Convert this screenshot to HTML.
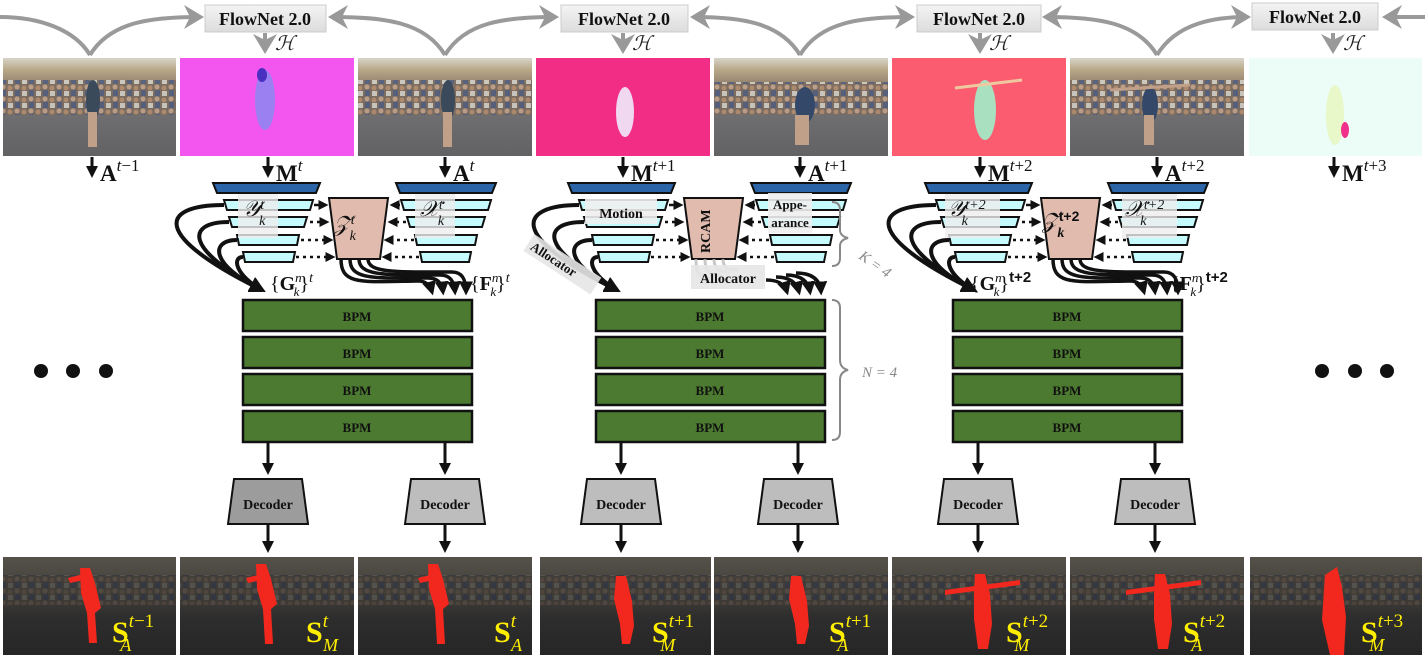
<!DOCTYPE html>
<html><head><meta charset="utf-8"><style>
html,body{margin:0;padding:0;background:#fff;}
svg{display:block;}
text{font-family:"Liberation Serif",serif;}
.b{font-weight:bold;}
</style></head><body>
<svg width="1425" height="659" viewBox="0 0 1425 659" xmlns="http://www.w3.org/2000/svg">
<defs>
<linearGradient id="photo" x1="0" y1="0" x2="0" y2="1">
<stop offset="0" stop-color="#d8d4c8"/><stop offset="0.12" stop-color="#b8a888"/>
<stop offset="0.3" stop-color="#8a7868"/><stop offset="0.55" stop-color="#7a6e66"/>
<stop offset="0.6" stop-color="#6e6e70"/><stop offset="1" stop-color="#626264"/>
</linearGradient>
<linearGradient id="dark" x1="0" y1="0" x2="0" y2="1">
<stop offset="0" stop-color="#55524a"/><stop offset="0.45" stop-color="#3c3a36"/>
<stop offset="0.6" stop-color="#2e2e2e"/><stop offset="1" stop-color="#262626"/>
</linearGradient>
<linearGradient id="fn" x1="0" y1="0" x2="0" y2="1">
<stop offset="0" stop-color="#f4f4f4"/><stop offset="1" stop-color="#dcdcdc"/>
</linearGradient>
<pattern id="crowd" width="14" height="12" patternUnits="userSpaceOnUse">
<rect width="14" height="12" fill="#7a6a5e"/><circle cx="3" cy="3" r="2.5" fill="#c8a890"/><rect x="1" y="6" width="5" height="6" fill="#4a5a80"/>
<circle cx="10" cy="4" r="2.5" fill="#b89070"/><rect x="8" y="7" width="5" height="5" fill="#d8d8d0"/>
</pattern>
<pattern id="dcrowd" width="14" height="12" patternUnits="userSpaceOnUse">
<rect width="14" height="12" fill="#3e3a36"/><circle cx="3" cy="3" r="2.5" fill="#5a4e46"/><rect x="1" y="6" width="5" height="6" fill="#2e3444"/>
<circle cx="10" cy="4" r="2.5" fill="#56483e"/><rect x="8" y="7" width="5" height="5" fill="#5a5a56"/>
</pattern>
<marker id="ga" markerWidth="6" markerHeight="6" refX="4" refY="3" orient="auto" markerUnits="strokeWidth"><path d="M0,0 L5,3 L0,6 L1.5,3z" fill="#999"/></marker>
<marker id="sa" markerWidth="4" markerHeight="4" refX="3" refY="2" orient="auto" markerUnits="strokeWidth"><path d="M0,0 L4,2 L0,4z" fill="#111"/></marker>

<g id="enc">
 <polygon points="213,183 320,183 316,193 217,193" fill="#2c64a8" stroke="#111" stroke-width="2"/>
 <polygon points="224,200 313,200 310,210 227,210" fill="#c6fbfd" stroke="#111" stroke-width="2"/>
 <polygon points="229,217 307,217 304,227 232,227" fill="#c6fbfd" stroke="#111" stroke-width="2"/>
 <polygon points="237,235 299,235 297,245 239,245" fill="#c6fbfd" stroke="#111" stroke-width="2"/>
 <polygon points="243,252 295,252 293,262 245,262" fill="#c6fbfd" stroke="#111" stroke-width="2"/>
 <polygon points="396,183 496,183 492,193 400,193" fill="#2c64a8" stroke="#111" stroke-width="2"/>
 <polygon points="401,200 491,200 488,210 404,210" fill="#c6fbfd" stroke="#111" stroke-width="2"/>
 <polygon points="407,217 485,217 482,227 410,227" fill="#c6fbfd" stroke="#111" stroke-width="2"/>
 <polygon points="415,235 477,235 475,245 417,245" fill="#c6fbfd" stroke="#111" stroke-width="2"/>
 <polygon points="420,252 471,252 469,262 422,262" fill="#c6fbfd" stroke="#111" stroke-width="2"/>
 <polygon points="329,198 388,198 380,259 337,259" fill="#e0bbae" stroke="#111" stroke-width="2"/>
 <g stroke="#111" stroke-width="2.5" stroke-dasharray="3,4" fill="none">
  <path d="M314,205 L326,205" stroke-dasharray="none" marker-end="url(#sa)"/>
  <path d="M310,222 L327,222" marker-end="url(#sa)"/>
  <path d="M301,240 L331,240" marker-end="url(#sa)"/>
  <path d="M296,257 L333,257" marker-end="url(#sa)"/>
  <path d="M400,205 L392,205" stroke-dasharray="none" marker-end="url(#sa)"/>
  <path d="M406,222 L390,222" marker-end="url(#sa)"/>
  <path d="M414,240 L386,240" marker-end="url(#sa)"/>
  <path d="M419,257 L384,257" marker-end="url(#sa)"/>
 </g>
</g>
<g id="rfan" stroke="#111" stroke-width="3.5" fill="none">
  <path d="M341,259 C341,285 360,282 418,281 C426,281 430,285 432,292" marker-end="url(#sa)"/>
  <path d="M350,259 C350,280 372,278 428,278 C438,278 442,283 443,292" marker-end="url(#sa)"/>
  <path d="M359,259 C359,276 384,275 440,275 C450,275 454,281 455,292" marker-end="url(#sa)"/>
  <path d="M368,259 C368,273 396,272 452,272 C462,272 466,279 466,292" marker-end="url(#sa)"/>
</g>
<g id="lcurves" stroke="#111" stroke-width="4" fill="none">
 <path d="M224,205 C160,205 150,235 262,290" marker-end="url(#sa)"/>
 <path d="M229,222 C185,222 185,250 262,290" marker-end="url(#sa)"/>
 <path d="M237,240 C210,240 210,265 262,290" marker-end="url(#sa)"/>
 <path d="M243,257 C232,257 235,275 262,290" marker-end="url(#sa)"/>
</g>
<g id="bpm">
 <rect x="243" y="300" width="229" height="31" fill="#4b7a30" stroke="#111" stroke-width="2.5"/>
 <rect x="243" y="337" width="229" height="31" fill="#4b7a30" stroke="#111" stroke-width="2.5"/>
 <rect x="243" y="374" width="229" height="31" fill="#4b7a30" stroke="#111" stroke-width="2.5"/>
 <rect x="243" y="411" width="229" height="31" fill="#4b7a30" stroke="#111" stroke-width="2.5"/>
 <g stroke="#111" stroke-width="3">
  <line x1="268" y1="442" x2="268" y2="472" marker-end="url(#sa)"/>
  <line x1="445" y1="442" x2="445" y2="472" marker-end="url(#sa)"/>
  <line x1="268" y1="525" x2="268" y2="550" marker-end="url(#sa)"/>
  <line x1="445" y1="525" x2="445" y2="550" marker-end="url(#sa)"/>
 </g>
</g>
<polygon id="dec" points="-34,479 34,479 40,524 -40,524" stroke="#111" stroke-width="2"/>
</defs>

<g stroke="#9a9a9a" stroke-width="4" fill="none">
 <path d="M0,17 C40,17 75,30 90,55"/>
 <path d="M90,55 C110,22 150,17 200,17" marker-end="url(#ga)"/>
 <path d="M445,55 C425,22 385,17 332,17" marker-end="url(#ga)"/>
 <path d="M445,55 C465,22 505,17 555,17" marker-end="url(#ga)"/>
 <path d="M800,55 C780,22 740,17 694,17" marker-end="url(#ga)"/>
 <path d="M800,55 C820,22 860,17 911,17" marker-end="url(#ga)"/>
 <path d="M1157,55 C1137,22 1097,17 1046,17" marker-end="url(#ga)"/>
 <path d="M1157,55 C1177,22 1217,17 1247,17" marker-end="url(#ga)"/>
 <path d="M1425,17 L1386,17" marker-end="url(#ga)"/>
 <line x1="265" y1="33" x2="265" y2="50" marker-end="url(#ga)"/>
 <line x1="623" y1="33" x2="623" y2="50" marker-end="url(#ga)"/>
 <line x1="980" y1="33" x2="980" y2="50" marker-end="url(#ga)"/>
 <line x1="1333" y1="33" x2="1333" y2="50" marker-end="url(#ga)"/>
</g>
<g font-size="18" fill="#111">
 <rect x="205" y="5" width="121" height="27" fill="url(#fn)" stroke="#ccc"/><text x="265" y="25" text-anchor="middle" class="b">FlowNet 2.0</text>
 <rect x="561" y="5" width="127" height="27" fill="url(#fn)" stroke="#ccc"/><text x="624" y="25" text-anchor="middle" class="b">FlowNet 2.0</text>
 <rect x="917" y="5" width="124" height="27" fill="url(#fn)" stroke="#ccc"/><text x="979" y="25" text-anchor="middle" class="b">FlowNet 2.0</text>
 <rect x="1252" y="3" width="126" height="27" fill="url(#fn)" stroke="#ccc"/><text x="1315" y="23" text-anchor="middle" class="b">FlowNet 2.0</text>
</g>
<g font-size="20" font-style="italic" fill="#222">
 <text x="275" y="50">ℋ</text><text x="632" y="50">ℋ</text><text x="989" y="50">ℋ</text><text x="1343" y="50">ℋ</text>
</g>

<!-- top images -->
<g>
 <rect x="3" y="58" width="173" height="98" fill="url(#photo)"/>
 <rect x="3" y="80" width="173" height="35" fill="url(#crowd)" opacity="0.8"/>
 <rect x="180" y="58" width="174" height="98" fill="#f356ef"/>
 <rect x="358" y="58" width="174" height="98" fill="url(#photo)"/>
 <rect x="358" y="80" width="174" height="35" fill="url(#crowd)" opacity="0.8"/>
 <rect x="536" y="58" width="174" height="98" fill="#f12d85"/>
 <rect x="714" y="58" width="174" height="98" fill="url(#photo)"/>
 <rect x="714" y="82" width="174" height="32" fill="url(#crowd)" opacity="0.8"/>
 <rect x="892" y="58" width="174" height="98" fill="#fb5c70"/>
 <rect x="1070" y="58" width="174" height="98" fill="url(#photo)"/>
 <rect x="1070" y="80" width="174" height="35" fill="url(#crowd)" opacity="0.8"/>
 <rect x="1249" y="58" width="173" height="98" fill="#ecfcf6"/>
 <g fill="#3a4a5a"><ellipse cx="93" cy="100" rx="7" ry="20"/><rect x="88" y="112" width="9" height="35" fill="#c0a088"/></g>
 <g fill="#3a4a5a"><ellipse cx="448" cy="100" rx="7" ry="20"/><rect x="443" y="112" width="9" height="35" fill="#c0a088"/></g>
 <g fill="#34486a"><ellipse cx="805" cy="105" rx="10" ry="18"/><rect x="795" y="115" width="14" height="30" fill="#c0a088"/></g>
 <g fill="#34486a"><ellipse cx="1150" cy="105" rx="8" ry="18"/><line x1="1110" y1="90" x2="1190" y2="85" stroke="#c0a088" stroke-width="3"/><rect x="1144" y="115" width="10" height="30" fill="#c0a088"/></g>
 <g><ellipse cx="265" cy="100" rx="10" ry="30" fill="#9a80f0"/><ellipse cx="262" cy="75" rx="5" ry="7" fill="#4a30c0"/></g>
 <g><ellipse cx="625" cy="112" rx="9" ry="25" fill="#f0d8f0"/></g>
 <g><ellipse cx="985" cy="110" rx="11" ry="30" fill="#a8e0c0"/><line x1="955" y1="88" x2="1022" y2="80" stroke="#f0c8a0" stroke-width="3"/></g>
 <g><ellipse cx="1335" cy="115" rx="9" ry="30" fill="#e8f8c8"/><ellipse cx="1345" cy="130" rx="4" ry="8" fill="#f0308a"/></g>
</g>

<!-- bottom images -->
<g>
 <rect x="3" y="557" width="173" height="98" fill="url(#dark)"/>
 <rect x="180" y="557" width="174" height="98" fill="url(#dark)"/>
 <rect x="358" y="557" width="174" height="98" fill="url(#dark)"/>
 <rect x="540" y="557" width="171" height="98" fill="url(#dark)"/>
 <rect x="714" y="557" width="174" height="98" fill="url(#dark)"/>
 <rect x="892" y="557" width="174" height="98" fill="url(#dark)"/>
 <rect x="1070" y="557" width="174" height="98" fill="url(#dark)"/>
 <rect x="1250" y="557" width="172" height="98" fill="url(#dark)"/>
 <g opacity="0.7">
  <rect x="3" y="575" width="173" height="30" fill="url(#dcrowd)"/>
  <rect x="180" y="575" width="174" height="30" fill="url(#dcrowd)"/>
  <rect x="358" y="575" width="174" height="30" fill="url(#dcrowd)"/>
  <rect x="540" y="575" width="171" height="30" fill="url(#dcrowd)"/>
  <rect x="714" y="575" width="174" height="30" fill="url(#dcrowd)"/>
  <rect x="892" y="575" width="174" height="30" fill="url(#dcrowd)"/>
  <rect x="1070" y="575" width="174" height="30" fill="url(#dcrowd)"/>
  <rect x="1250" y="575" width="172" height="30" fill="url(#dcrowd)"/>
 </g>
 <g fill="#f2281e">
  <path d="M80,568 l10,0 l5,15 l6,25 l-6,5 l2,30 l-8,0 l-2,-30 l-6,-20z"/><path d="M68,578 l20,-5 l0,6 l-18,4z"/>
  <path d="M256,564 l10,0 l5,15 l6,25 l-6,5 l2,35 l-8,0 l-2,-35 l-6,-20z"/><path d="M246,578 l20,-5 l0,6 l-18,4z"/>
  <path d="M428,564 l10,0 l5,15 l6,25 l-6,5 l2,35 l-8,0 l-2,-35 l-6,-20z"/><path d="M418,578 l20,-5 l0,6 l-18,4z"/>
  <path d="M616,576 l10,0 l6,25 l2,25 l-4,18 l-8,0 l-2,-20 l-6,-25z"/>
  <path d="M791,576 l10,0 l6,25 l2,25 l-4,18 l-8,0 l-2,-20 l-6,-25z"/>
  <path d="M975,574 l10,0 l5,20 l2,30 l-4,25 l-10,0 l-4,-30 l0,-25z"/><path d="M945,590 l75,-10 l0,5 l-75,10z"/>
  <path d="M1155,574 l10,0 l5,20 l2,30 l-4,25 l-10,0 l-4,-30 l0,-25z"/><path d="M1126,590 l75,-10 l0,5 l-75,10z"/>
  <path d="M1325,575 l12,-8 l5,20 l4,30 l-2,38 l-14,0 l-8,-35z"/>
 </g>
 <g fill="#ffee00" font-size="30">
  <text x="112" y="642" class="b">S<tspan font-size="19" font-weight="normal" font-style="italic" dy="-15">t</tspan><tspan font-size="19" font-weight="normal">−1</tspan><tspan font-size="18" font-weight="normal" font-style="italic" dx="-34" dy="24">A</tspan></text>
  <text x="306" y="642" class="b">S<tspan font-size="19" font-weight="normal" font-style="italic" dy="-15">t</tspan><tspan font-size="18" font-weight="normal" font-style="italic" dx="-5" dy="24">M</tspan></text>
  <text x="494" y="642" class="b">S<tspan font-size="19" font-weight="normal" font-style="italic" dy="-15">t</tspan><tspan font-size="18" font-weight="normal" font-style="italic" dx="-5" dy="24">A</tspan></text>
  <text x="652" y="642" class="b">S<tspan font-size="19" font-weight="normal" font-style="italic" dy="-15">t</tspan><tspan font-size="19" font-weight="normal">+1</tspan><tspan font-size="18" font-weight="normal" font-style="italic" dx="-34" dy="24">M</tspan></text>
  <text x="829" y="642" class="b">S<tspan font-size="19" font-weight="normal" font-style="italic" dy="-15">t</tspan><tspan font-size="19" font-weight="normal">+1</tspan><tspan font-size="18" font-weight="normal" font-style="italic" dx="-34" dy="24">A</tspan></text>
  <text x="1006" y="642" class="b">S<tspan font-size="19" font-weight="normal" font-style="italic" dy="-15">t</tspan><tspan font-size="19" font-weight="normal">+2</tspan><tspan font-size="18" font-weight="normal" font-style="italic" dx="-34" dy="24">M</tspan></text>
  <text x="1183" y="642" class="b">S<tspan font-size="19" font-weight="normal" font-style="italic" dy="-15">t</tspan><tspan font-size="19" font-weight="normal">+2</tspan><tspan font-size="18" font-weight="normal" font-style="italic" dx="-34" dy="24">A</tspan></text>
  <text x="1361" y="642" class="b">S<tspan font-size="19" font-weight="normal" font-style="italic" dy="-15">t</tspan><tspan font-size="19" font-weight="normal">+3</tspan><tspan font-size="18" font-weight="normal" font-style="italic" dx="-34" dy="24">M</tspan></text>
 </g>
</g>

<g stroke="#111" stroke-width="3">
 <line x1="92" y1="157" x2="92" y2="175" marker-end="url(#sa)"/>
 <line x1="268" y1="157" x2="268" y2="175" marker-end="url(#sa)"/>
 <line x1="445" y1="157" x2="445" y2="175" marker-end="url(#sa)"/>
 <line x1="623" y1="157" x2="623" y2="175" marker-end="url(#sa)"/>
 <line x1="800" y1="157" x2="800" y2="175" marker-end="url(#sa)"/>
 <line x1="980" y1="157" x2="980" y2="175" marker-end="url(#sa)"/>
 <line x1="1157" y1="157" x2="1157" y2="175" marker-end="url(#sa)"/>
 <line x1="1334" y1="157" x2="1334" y2="175" marker-end="url(#sa)"/>
</g>
<g font-size="23" fill="#111">
 <text x="100" y="181" class="b">A<tspan font-size="17" font-weight="normal" font-style="italic" dy="-10">t</tspan><tspan font-size="17" font-weight="normal">−1</tspan></text>
 <text x="276" y="181" class="b">M<tspan font-size="17" font-weight="normal" font-style="italic" dy="-10">t</tspan></text>
 <text x="453" y="181" class="b">A<tspan font-size="17" font-weight="normal" font-style="italic" dy="-10">t</tspan></text>
 <text x="631" y="181" class="b">M<tspan font-size="17" font-weight="normal" font-style="italic" dy="-10">t</tspan><tspan font-size="17" font-weight="normal">+1</tspan></text>
 <text x="808" y="181" class="b">A<tspan font-size="17" font-weight="normal" font-style="italic" dy="-10">t</tspan><tspan font-size="17" font-weight="normal">+1</tspan></text>
 <text x="988" y="181" class="b">M<tspan font-size="17" font-weight="normal" font-style="italic" dy="-10">t</tspan><tspan font-size="17" font-weight="normal">+2</tspan></text>
 <text x="1165" y="181" class="b">A<tspan font-size="17" font-weight="normal" font-style="italic" dy="-10">t</tspan><tspan font-size="17" font-weight="normal">+2</tspan></text>
 <text x="1342" y="181" class="b">M<tspan font-size="17" font-weight="normal" font-style="italic" dy="-10">t</tspan><tspan font-size="17" font-weight="normal">+3</tspan></text>
</g>

<use href="#enc"/>
<use href="#enc" transform="translate(355,0)"/>
<use href="#enc" transform="translate(712,0)"/>
<use href="#rfan"/>
<use href="#rfan" transform="translate(712,0)"/>
<use href="#lcurves"/>
<use href="#lcurves" transform="translate(712,0)"/>
<g stroke="#111" stroke-width="4" fill="none">
 <path d="M579,205 C520,205 505,235 617,290" marker-end="url(#sa)"/>
 <path d="M584,222 C540,222 540,250 617,290" marker-end="url(#sa)"/>
 <path d="M592,240 C565,240 565,265 617,290" marker-end="url(#sa)"/>
 <path d="M598,257 C587,257 590,275 617,290" marker-end="url(#sa)"/>
</g>
<!-- group2 fan from RCAM -->
<g stroke="#111" stroke-width="3.5" fill="none">
  <path d="M766,280 C775,280 784,282 787,292" marker-end="url(#sa)"/>
  <path d="M776,277 C786,277 796,280 799,292" marker-end="url(#sa)"/>
  <path d="M786,275 C798,275 808,279 810,292" marker-end="url(#sa)"/>
  <path d="M796,273 C810,273 820,278 821,292" marker-end="url(#sa)"/>
</g>
<g stroke="#bbb" stroke-width="3" fill="none" opacity="0.8">
  <path d="M696,259 C696,275 700,278 712,278"/>
  <path d="M705,259 C705,272 710,275 722,275"/>
  <path d="M714,259 C714,270 720,272 730,272"/>
  <path d="M723,259 C723,268 728,270 738,270"/>
</g>

<rect x="238" y="194" width="40" height="44" fill="#eee" opacity="0.8"/>
<rect x="415" y="194" width="40" height="44" fill="#eee" opacity="0.8"/>
<g font-style="italic" fill="#111">
 <text x="243" y="216" font-size="22">𝒴<tspan font-size="14" dy="-7">t</tspan><tspan font-size="14" dx="-5" dy="16">k</tspan></text>
 <text x="420" y="216" font-size="22">𝒳<tspan font-size="14" dy="-7">t</tspan><tspan font-size="14" dx="-5" dy="16">k</tspan></text>
 <text x="334" y="231" font-size="22">𝒵<tspan font-size="14" dy="-7">t</tspan><tspan font-size="14" dx="-5" dy="16">k</tspan></text>
</g>
<g font-size="20" fill="#111">
 <text x="270" y="290">{<tspan class="b">G</tspan><tspan font-size="13" font-style="italic" dy="-8">n</tspan><tspan font-size="13" font-style="italic" dx="-8" dy="14">k</tspan><tspan dy="-6">}</tspan><tspan font-size="14" font-style="italic" dy="-8">t</tspan></text>
 <text x="470" y="290">{<tspan class="b">F</tspan><tspan font-size="13" font-style="italic" dy="-8">n</tspan><tspan font-size="13" font-style="italic" dx="-8" dy="14">k</tspan><tspan dy="-6">}</tspan><tspan font-size="14" font-style="italic" dy="-8">t</tspan></text>
 <text x="970" y="290">{<tspan class="b">G</tspan><tspan font-size="13" font-style="italic" dy="-8">n</tspan><tspan font-size="13" font-style="italic" dx="-8" dy="14">k</tspan><tspan dy="-6">}</tspan><tspan font-size="15" font-family="Liberation Sans" class="b" dy="-8">t+2</tspan></text>
 <text x="1170" y="290">{<tspan class="b">F</tspan><tspan font-size="13" font-style="italic" dy="-8">n</tspan><tspan font-size="13" font-style="italic" dx="-8" dy="14">k</tspan><tspan dy="-6">}</tspan><tspan font-size="15" font-family="Liberation Sans" class="b" dy="-8">t+2</tspan></text>
</g>
<rect x="945" y="194" width="55" height="44" fill="#eee" opacity="0.8"/>
<rect x="1122" y="194" width="55" height="44" fill="#eee" opacity="0.8"/>
<g font-style="italic" fill="#111">
 <text x="948" y="216" font-size="22">𝒴<tspan font-size="14" dy="-7">t</tspan><tspan font-size="14">+2</tspan><tspan font-size="14" dx="-24" dy="16">k</tspan></text>
 <text x="1125" y="216" font-size="22">𝒳<tspan font-size="14" dy="-7">t</tspan><tspan font-size="14">+2</tspan><tspan font-size="14" dx="-24" dy="16">k</tspan></text>
 <text x="1042" y="228" font-size="22">𝒵<tspan font-size="14" font-style="normal" font-family="Liberation Sans" class="b" dy="-7">t+2</tspan><tspan font-size="14" class="b" dx="-22" dy="16">k</tspan></text>
</g>
<rect x="585" y="199" width="72" height="25" fill="#eee" opacity="0.9"/>
<text x="621" y="218" font-size="14" class="b" text-anchor="middle" fill="#111">Motion</text>
<rect x="768" y="193" width="44" height="40" fill="#eee" opacity="0.9"/>
<text x="790" y="209" font-size="13" class="b" text-anchor="middle" fill="#111">Appe-</text>
<text x="790" y="227" font-size="13" class="b" text-anchor="middle" fill="#111">arance</text>
<text x="0" y="0" font-size="14" class="b" fill="#111" transform="translate(710,253) rotate(-90)">RCAM</text>
<g transform="translate(530,248) rotate(33)"><rect x="-4" y="-14" width="80" height="20" fill="#e6e6e6" opacity="0.9"/><text x="0" y="1" font-size="13" class="b" fill="#111">Allocator</text></g>
<rect x="691" y="265" width="74" height="24" fill="#e6e6e6" opacity="0.9"/>
<text x="728" y="283" font-size="14" class="b" text-anchor="middle" fill="#111">Allocator</text>

<g stroke="#888" stroke-width="2" fill="none">
 <path d="M832,202 q8,0 8,8 l0,20 q0,6 8,8 q-8,2 -8,8 l0,12 q0,8 -8,8"/>
 <path d="M832,300 q8,0 8,8 l0,52 q0,8 8,10 q-8,2 -8,10 l0,52 q0,8 -8,8"/>
</g>
<text x="0" y="0" font-size="15" font-style="italic" fill="#888" transform="translate(858,258) rotate(35)">K = 4</text>
<text x="862" y="377" font-size="15" font-style="italic" fill="#888">N = 4</text>

<use href="#bpm"/>
<use href="#bpm" transform="translate(353,0)"/>
<use href="#bpm" transform="translate(710,0)"/>
<g font-size="13" fill="#111" text-anchor="middle">
 <text x="357" y="321" class="b">BPM</text><text x="357" y="358" class="b">BPM</text><text x="357" y="395" class="b">BPM</text><text x="357" y="432" class="b">BPM</text>
 <text x="710" y="321" class="b">BPM</text><text x="710" y="358" class="b">BPM</text><text x="710" y="395" class="b">BPM</text><text x="710" y="432" class="b">BPM</text>
 <text x="1067" y="321" class="b">BPM</text><text x="1067" y="358" class="b">BPM</text><text x="1067" y="395" class="b">BPM</text><text x="1067" y="432" class="b">BPM</text>
</g>

<use href="#dec" x="268" fill="#9c9c9c"/>
<use href="#dec" x="445" fill="#bdbdbd"/>
<use href="#dec" x="621" fill="#bdbdbd"/>
<use href="#dec" x="798" fill="#bdbdbd"/>
<use href="#dec" x="978" fill="#bdbdbd"/>
<use href="#dec" x="1155" fill="#bdbdbd"/>
<g font-size="14" fill="#111" text-anchor="middle">
 <text x="268" y="509" class="b">Decoder</text><text x="445" y="509" class="b">Decoder</text>
 <text x="621" y="509" class="b">Decoder</text><text x="798" y="509" class="b">Decoder</text>
 <text x="978" y="509" class="b">Decoder</text><text x="1155" y="509" class="b">Decoder</text>
</g>

<g fill="#111">
 <circle cx="41" cy="371" r="7"/><circle cx="73" cy="371" r="7"/><circle cx="106" cy="371" r="7"/>
 <circle cx="1322" cy="371" r="7"/><circle cx="1355" cy="371" r="7"/><circle cx="1387" cy="371" r="7"/>
</g>
</svg>
</body></html>
